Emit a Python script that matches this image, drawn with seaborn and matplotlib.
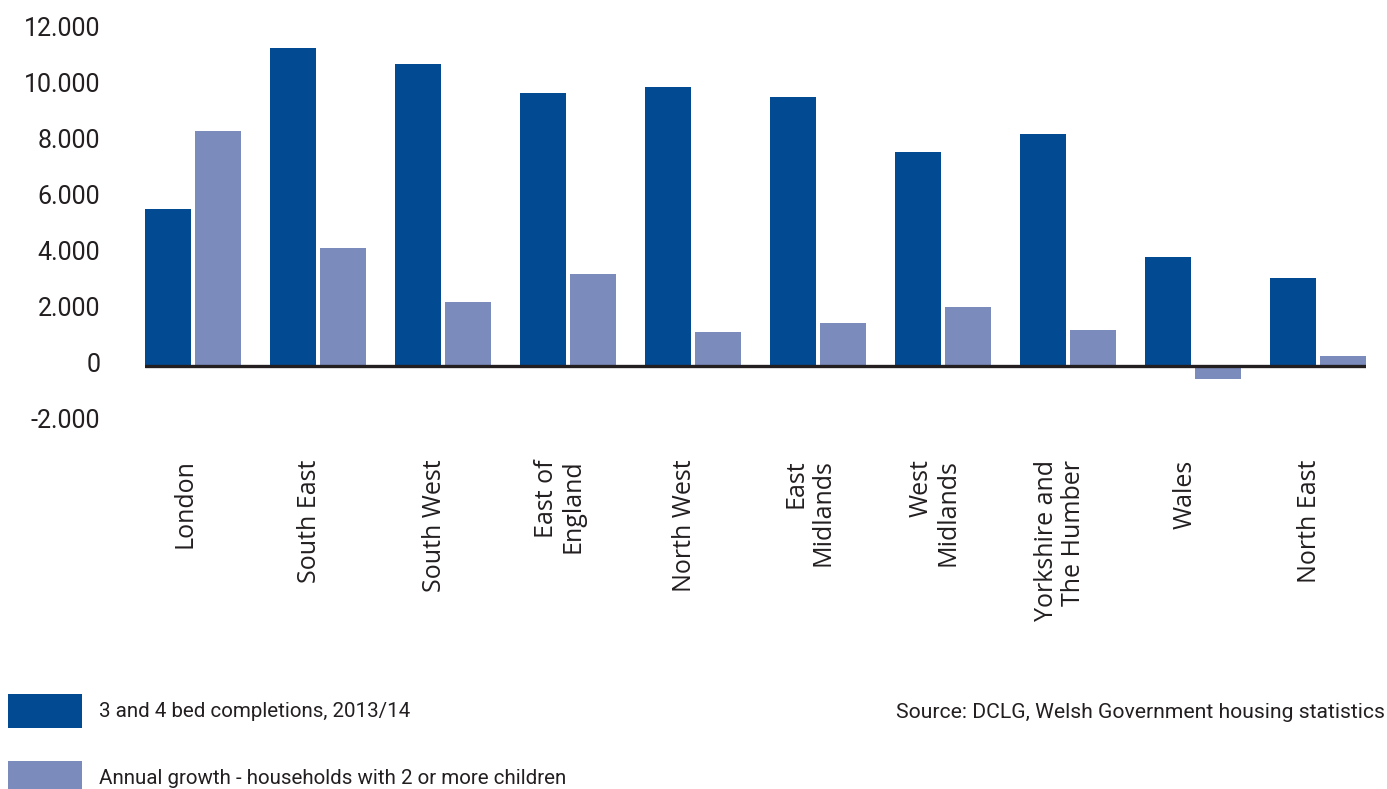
import matplotlib
matplotlib.use("Agg")
import matplotlib.pyplot as plt
import matplotlib.transforms as mtransforms
import seaborn as sns
import pandas as pd

regions = ["London", "South East", "South West", "East of\nEngland", "North West",
           "East\nMidlands", "West\nMidlands", "Yorkshire and\nThe Humber", "Wales",
           "North East"]
completions = [5600, 11350, 10800, 9750, 9950, 9600, 7650, 8300, 3900, 3150]
household_growth = [8400, 4200, 2300, 3300, 1200, 1550, 2100, 1300, -450, 350]
series_names = ["3 and 4 bed completions, 2013/14",
                "Annual growth - households with 2 or more children"]
y_ticks = [-2000, 0, 2000, 4000, 6000, 8000, 10000, 12000]
y_tick_labels = ["-2.000", "0", "2.000", "4.000", "6.000", "8.000", "10.000", "12.000"]
source_note = "Source: DCLG, Welsh Government housing statistics"

dark_blue = "#024a91"
light_blue = "#7a8bbc"
text_color = "#231f20"

df = pd.DataFrame({
    "region": regions * 2,
    "value": completions + household_growth,
    "series": [series_names[0]] * len(regions) + [series_names[1]] * len(regions),
})

sns.set_theme(style="white")
plt.rcParams["font.family"] = ["Roboto", "DejaVu Sans"]
plt.rcParams["text.color"] = text_color

fig = plt.figure(figsize=(13.87, 7.89), dpi=100)
ax = fig.add_axes([0.1045, 0.4651, 0.8803, 0.4968])

sns.barplot(data=df, x="region", y="value", hue="series", order=regions,
            hue_order=series_names, palette=[dark_blue, light_blue],
            width=0.8, gap=0.08, saturation=1, errorbar=None, ax=ax,
            linewidth=0)

ax.set_xlim(-0.384, 9.384)
ax.set_ylim(-2000, 12000)
ax.axhline(0, color=text_color, lw=2.4, zorder=5)
for s in ax.spines.values():
    s.set_visible(False)
ax.set_xlabel("")
ax.set_ylabel("")

ax.set_yticks(y_ticks)
ax.set_yticklabels(y_tick_labels, fontsize=18, color=text_color)
ax.tick_params(axis="y", length=0, pad=32)
up = mtransforms.ScaledTranslation(0, 0.04, fig.dpi_scale_trans)
for lab in ax.get_yticklabels():
    lab.set_transform(lab.get_transform() + up)

ax.tick_params(axis="x", length=0, pad=27)
ax.set_xticks(range(len(regions)))
ax.set_xticklabels(regions, rotation=90, fontsize=18, color=text_color,
                   family=["Open Sans", "DejaVu Sans"], va="top", ha="center")
left = mtransforms.ScaledTranslation(-0.08, 0, fig.dpi_scale_trans)
for lab in ax.get_xticklabels():
    lab.set_multialignment("right")
    lab.set_linespacing(1.1)
    lab.set_transform(lab.get_transform() + left)

handles, labels = ax.get_legend_handles_labels()
ax.get_legend().remove()
fig.legend(handles, labels, loc="upper left",
           bbox_to_anchor=(8 / 1387, 1 - 694 / 789), frameon=False,
           fontsize=14.8, handlelength=3.6, handleheight=2.15,
           handletextpad=0.85, labelspacing=1.6, borderpad=0,
           borderaxespad=0)

fig.text(1385 / 1387, 1 - 713 / 789, source_note, ha="right", va="center",
         fontsize=15.2, color=text_color)

fig.savefig("out.png", dpi=100, facecolor="white")
